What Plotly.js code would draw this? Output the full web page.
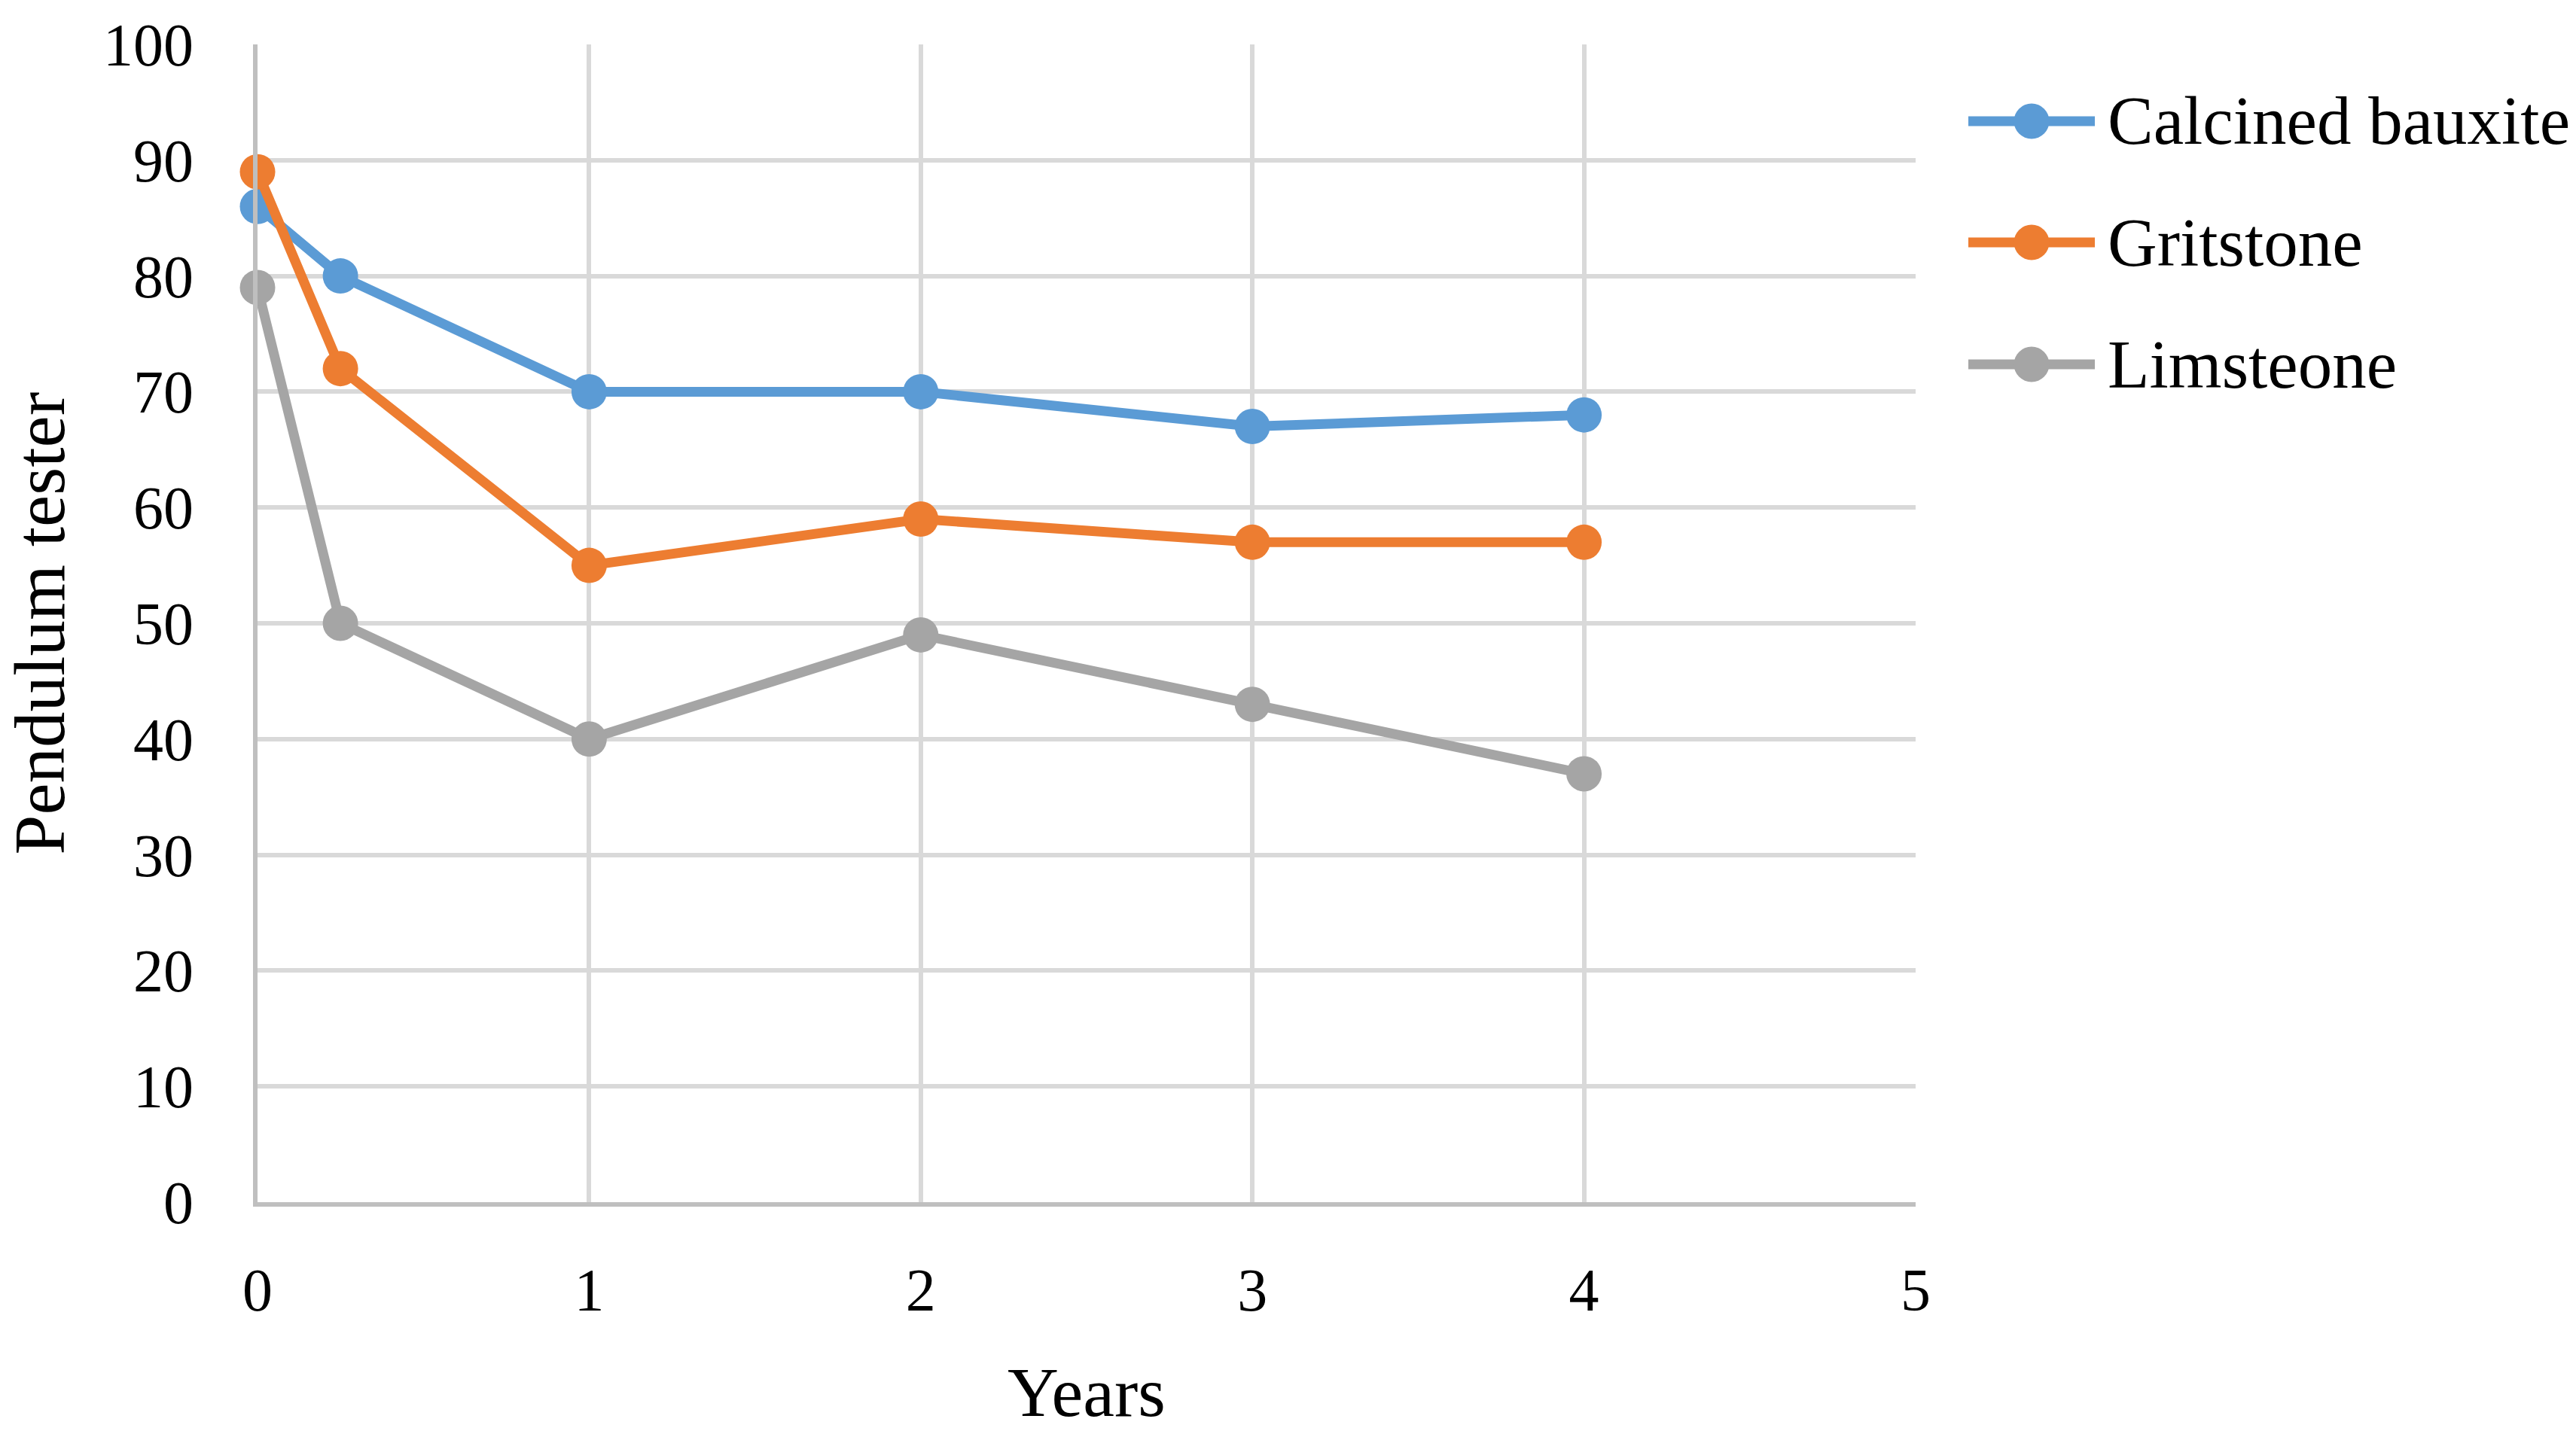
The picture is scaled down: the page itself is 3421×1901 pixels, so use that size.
<!DOCTYPE html>
<html>
<head>
<meta charset="utf-8">
<script src="https://cdn.plot.ly/plotly-3.0.1.min.js"></script>
<style>html,body{margin:0;padding:0;background:#fff;}#chart{width:3421px;height:1901px;}</style>
</head>
<body>
<div id="chart"></div>
<script>
var years = [0, 0.25, 1, 2, 3, 4];
var calcinedBauxite = [86, 80, 70, 70, 67, 68];
var gritstone = [89, 72, 55, 59, 57, 57];
var limsteone = [79, 50, 40, 49, 43, 37];
var seriesNames = ["Calcined bauxite", "Gritstone", "Limsteone"];
var seriesColors = ["#5B9BD5", "#ED7D31", "#A5A5A5"];
var xTicks = [0, 1, 2, 3, 4, 5];
var yTicks = [0, 10, 20, 30, 40, 50, 60, 70, 80, 90, 100];

var FONT = "Liberation Serif, Times New Roman, serif";
var W = 3421, H = 1901;
var M = {l: 342, r: 877, t: 59, b: 304};
var plotW = W - M.l - M.r, plotH = H - M.t - M.b;
function px(x) { return (x - M.l) / plotW; }
function py(y) { return (H - M.b - y) / plotH; }

var values = [calcinedBauxite, gritstone, limsteone];
var traces = values.map(function (v, i) {
  return {
    type: "scatter",
    mode: "lines+markers",
    x: years,
    y: v,
    name: seriesNames[i],
    cliponaxis: false,
    showlegend: false,
    line: {color: seriesColors[i], width: 13},
    marker: {color: seriesColors[i], size: 47, symbol: "circle", line: {width: 0}}
  };
});

// legend drawn as layout shapes + annotations
var legendRowY = [161, 322, 484];
var shapes = [], annotations = [];
seriesNames.forEach(function (name, i) {
  var yy = py(legendRowY[i]);
  shapes.push({
    type: "line", xref: "paper", yref: "paper",
    x0: px(2614), x1: px(2782), y0: yy, y1: yy,
    line: {color: seriesColors[i], width: 13}
  });
  shapes.push({
    type: "circle", xref: "paper", yref: "paper",
    xsizemode: "pixel", ysizemode: "pixel",
    xanchor: px(2698), yanchor: yy,
    x0: -23.5, x1: 23.5, y0: -23.5, y1: 23.5,
    fillcolor: seriesColors[i], line: {width: 0}
  });
  annotations.push({
    xref: "paper", yref: "paper",
    x: px(2797), y: yy, xanchor: "left", yanchor: "middle",
    text: name, showarrow: false,
    font: {family: FONT, size: 91, color: "#000000"}
  });
});

var layout = {
  width: W,
  height: H,
  paper_bgcolor: "#ffffff",
  plot_bgcolor: "#ffffff",
  margin: {l: M.l, r: M.r, t: M.t, b: M.b, pad: 0},
  font: {family: FONT, size: 80, color: "#000000"},
  showlegend: false,
  shapes: shapes,
  annotations: annotations,
  xaxis: {
    range: [0, 5],
    tickvals: xTicks,
    ticktext: xTicks.map(String),
    ticks: "",
    showgrid: true,
    gridcolor: "#D9D9D9",
    gridwidth: 6,
    showline: true,
    linecolor: "#BFBFBF",
    linewidth: 6,
    zeroline: false,
    ticklabelstandoff: 42,
    tickfont: {family: FONT, size: 80, color: "#000000"},
    title: {text: "Years", font: {family: FONT, size: 94, color: "#000000"}, standoff: 86}
  },
  yaxis: {
    range: [0, 100],
    tickvals: yTicks,
    ticktext: yTicks.map(String),
    ticks: "",
    showgrid: true,
    gridcolor: "#D9D9D9",
    gridwidth: 6,
    showline: true,
    linecolor: "#BFBFBF",
    linewidth: 6,
    zeroline: false,
    ticklabelstandoff: 63,
    tickfont: {family: FONT, size: 80, color: "#000000"},
    title: {text: "Pendulum tester", font: {family: FONT, size: 95, color: "#000000"}, standoff: 30}
  }
};

Plotly.newPlot("chart", traces, layout, {displayModeBar: false, staticPlot: true});
</script>
</body>
</html>
